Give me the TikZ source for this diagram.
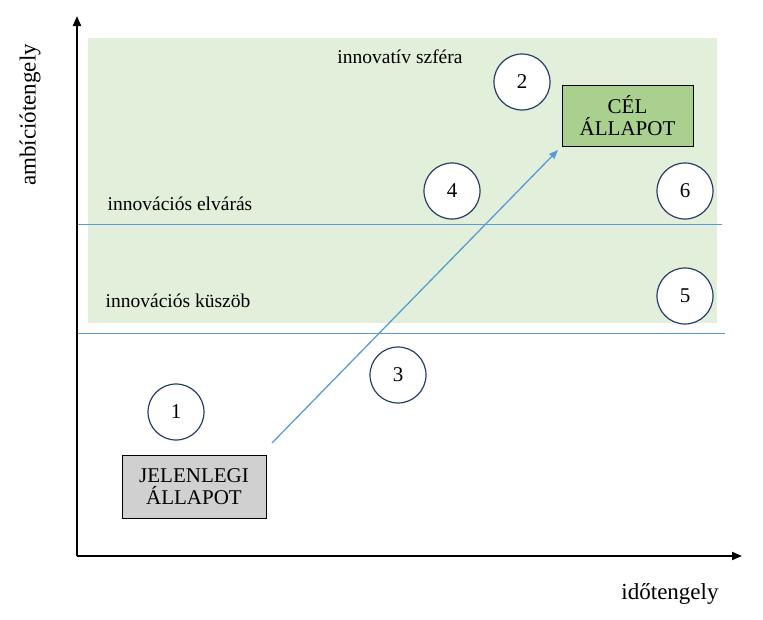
\documentclass[tikz,border=0pt]{standalone}
\usepackage{fontspec}
\setmainfont{Liberation Serif}
\usetikzlibrary{arrows.meta}
\definecolor{bgg}{RGB}{226,239,218}
\definecolor{boxg}{RGB}{169,208,142}
\definecolor{boxgr}{RGB}{208,208,208}
\definecolor{bl}{RGB}{91,155,213}
\definecolor{cb}{RGB}{40,60,100}
\begin{document}
\begin{tikzpicture}[x=1pt,y=-1pt,
  num/.style={circle,draw=cb,line width=1.2pt,fill=white,minimum size=56pt,inner sep=0pt,font=\fontsize{21}{21}\selectfont},
  stbox/.style={draw=black,line width=1pt,minimum width=#1,align=center,font=\fontsize{21}{22}\selectfont,inner sep=2pt},
  lbl/.style={font=\fontsize{19.5}{19.5}\selectfont}]
\useasboundingbox (0,0) rectangle (763,619);
\fill[bgg] (88,38) rectangle (717,323);
\draw[bl,thin] (77,224) -- (722,224);
\draw[bl,thin] (77,333) -- (725,333);
\coordinate (o) at (77,556);
\coordinate (ytop) at (77,16);
\coordinate (xend) at (742,556);
\draw[line width=2pt,-{Triangle[length=10pt,width=8pt]}] (o) -- (ytop);
\draw[line width=2pt,-{Triangle[length=10pt,width=8pt]}] (o) -- (xend);
\node[rotate=90,font=\fontsize{23}{23}\selectfont] (ya) at (30,115) {ambíciótengely};
\node[font=\fontsize{23}{23}\selectfont] (xa) at (670,594) {időtengely};
\node[lbl] (t1) at (400,57) {innovatív szféra};
\node[lbl] (t2) at (180,204) {innovációs elvárás};
\node[lbl] (t3) at (178,301) {innovációs küszöb};
\node[num] (n1) at (176,412) {1};
\node[num] (n2) at (522,82) {2};
\node[num] (n3) at (398,375) {3};
\node[num] (n4) at (452,191) {4};
\node[num] (n5) at (685,296) {5};
\node[num] (n6) at (685,191) {6};
\node[stbox=131pt,fill=boxg,minimum height=61pt] (cel) at (627.5,115.5) {CÉL\\ÁLLAPOT};
\node[stbox=144pt,fill=boxgr,minimum height=63pt] (jel) at (194,486.5) {JELENLEGI\\ÁLLAPOT};
\coordinate (as) at (272,443);
\coordinate (ae) at (558,150);
\draw[bl,line width=1.3pt,-{Triangle[length=9pt,width=7pt]}] (as) -- (ae);
\end{tikzpicture}
\end{document}
